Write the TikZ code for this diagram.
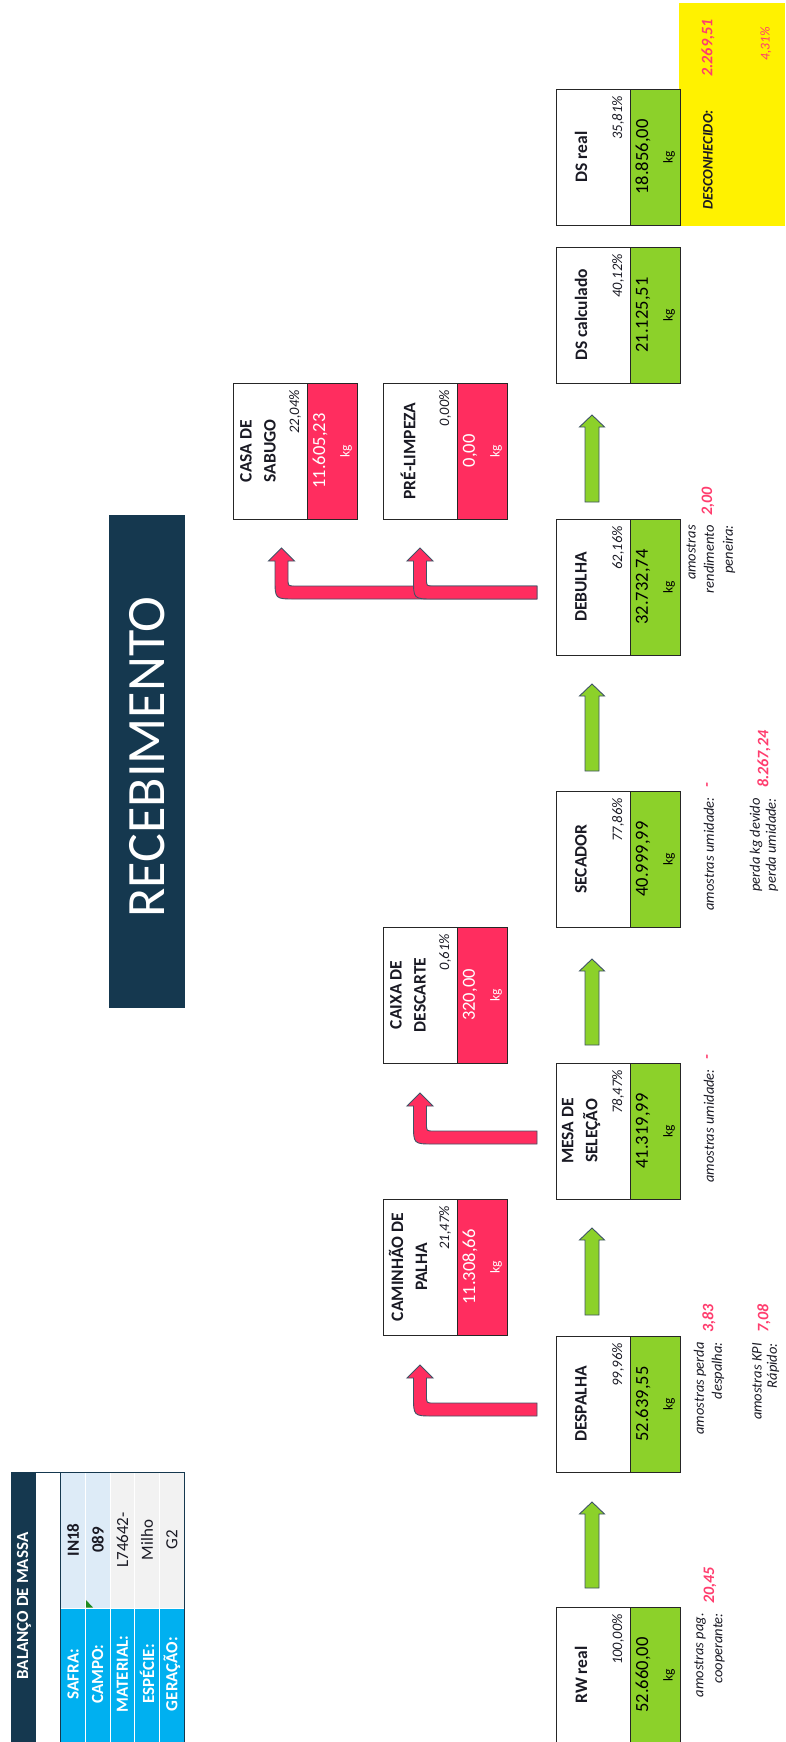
\documentclass[tikz,border=0pt]{standalone}
\usepackage{fontspec}
\setmainfont{Carlito}
\usetikzlibrary{calc}

\definecolor{navy}{HTML}{15384F}
\definecolor{flowgreen}{HTML}{8CD12A}
\definecolor{lossred}{HTML}{FF2D5F}
\definecolor{numred}{HTML}{FF3D6E}
\definecolor{arrowedge}{HTML}{3F5366}
\definecolor{cyanlab}{HTML}{00B0F0}
\definecolor{lightblue}{HTML}{DDEBF7}
\definecolor{lightgray}{HTML}{F2F2F2}
\definecolor{ink}{HTML}{1A1A24}
\definecolor{flagreen}{HTML}{1F8A1F}

\newcommand{\setfs}[2]{\fontsize{#1pt}{#2pt}\selectfont}

\tikzset{
  boxframe/.style={draw=black!85, line width=1.2pt, inner sep=0pt},
  txt/.style={rotate=90, inner sep=0pt, text=ink},
  titletxt/.style={txt, font={\bfseries\setfs{17.5}{24}}, align=center},
  pcttxt/.style={txt, font={\itshape\setfs{14.5}{14.5}}},
  valtxt/.style={txt, font={\setfs{18.5}{18.5}}},
  kgtxt/.style={txt, font={\setfs{13.5}{13.5}}},
  notetxt/.style={txt, font={\itshape\setfs{14.5}{14.5}}},
  rednum/.style={rotate=90, inner sep=0pt, text=numred, font={\bfseries\itshape\setfs{16}{16}}},
  greenarrow/.style={fill=flowgreen, draw=arrowedge, line width=0.9pt, line join=miter},
  redarrow/.style={fill=lossred, draw=arrowedge, line width=0.9pt, line join=miter},
  celltxt/.style={rotate=90, inner sep=0pt, font={\setfs{17}{17}}},
}

% one process box: title cell, load cell with mass
% #1 name, #2 left, #3 top, #4 load colour, #5 title, #6 share, #7 mass, #8 mass colour
\newcommand{\flowbox}[8]{%
  \node[boxframe, fill=white, minimum width=74pt, minimum height=136pt, anchor=north west] (#1-head) at (#2,#3) {};
  \node[boxframe, fill=#4, minimum width=49.5pt, minimum height=136pt, anchor=north west] (#1-load) at (#2+74,#3) {};
  \node[titletxt] (#1-title) at (#2+25,#3+68) {#5};
  \node[pcttxt, anchor=east] (#1-pct) at (#2+62,#3+7) {#6};
  \node[valtxt, text=#8] (#1-val) at (#2+87,#3+68) {#7};
  \node[kgtxt, text=#8] (#1-kg) at (#2+113,#3+68) {kg};
}

% straight block arrow pointing up: #1 centre x, #2 tip y, #3 tail y
\newcommand{\grarrow}[3]{%
  \filldraw[greenarrow] (#1,#2) -- (#1+12.5,#2+12) -- (#1+7,#2+12) -- (#1+7,#3)
    -- (#1-7,#3) -- (#1-7,#2+12) -- (#1-12.5,#2+12) -- cycle;
}

% bent block arrow: tail at the right, turning up to the tip
% #1 tip x, #2 tip y, #3 tail x
\newcommand{\rdarrow}[3]{%
  \filldraw[redarrow] (#1,#2) -- (#1+13,#2+13) -- (#1+6.5,#2+13) -- (#1+6.5,#2+31)
    .. controls (#1+6.5,#2+38) .. (#1+13.5,#2+38) -- (#3,#2+38) -- (#3,#2+51)
    -- (#1+13.5,#2+51) .. controls (#1-6.5,#2+51) .. (#1-6.5,#2+31)
    -- (#1-6.5,#2+13) -- (#1-13,#2+13) -- cycle;
}

\begin{document}
\begin{tikzpicture}[x=1pt,y=-1pt]
\useasboundingbox (0,0) rectangle (785,1742);
\fill[white] (0,0) rectangle (785,1742);

% ---------- header table ----------
\fill[navy] (11,1472) rectangle (36,1742);
\fill[lightblue] (60.7,1472) rectangle (110,1608);
\fill[lightgray] (110,1472) rectangle (184.2,1608);
\fill[cyanlab] (60.7,1608) rectangle (184.2,1742);
\foreach \gx in {85.4,110,134.8,159.5}
  \draw[white, line width=1pt] (\gx,1472) -- (\gx,1742);
\draw[white, line width=1pt] (60.7,1608) -- (184.2,1608);
\draw[navy, line width=1pt] (11,1742) -- (11,1472) -- (184.2,1472) -- (184.2,1742);
\draw[navy, line width=1pt] (60.7,1472) -- (60.7,1742);
\fill[flagreen] (86,1600) -- (86,1607.5) -- (93,1607.5) -- cycle;

\node[celltxt, text=white, font={\bfseries\setfs{17}{17}}] (tbl-head) at (24,1606) {BALANÇO DE MASSA};
\node[celltxt, text=white, font={\bfseries\setfs{17}{17}}] (tbl-l1) at (73,1674) {SAFRA:};
\node[celltxt, text=white, font={\bfseries\setfs{17}{17}}] (tbl-l2) at (97.7,1674) {CAMPO:};
\node[celltxt, text=white, font={\bfseries\setfs{17}{17}}] (tbl-l3) at (122.4,1674) {MATERIAL:};
\node[celltxt, text=white, font={\bfseries\setfs{17}{17}}] (tbl-l4) at (147.1,1674) {ESPÉCIE:};
\node[celltxt, text=white, font={\bfseries\setfs{17}{17}}] (tbl-l5) at (171.8,1674) {GERAÇÃO:};
\node[celltxt, text=ink, font={\bfseries\setfs{17}{17}}] (tbl-v1) at (73,1540) {IN18};
\node[celltxt, text=ink, font={\bfseries\setfs{17}{17}}] (tbl-v2) at (97.7,1540) {089};
\node[celltxt, text=ink] (tbl-v3) at (122.4,1540) {L74642-};
\node[celltxt, text=ink] (tbl-v4) at (147.1,1540) {Milho};
\node[celltxt, text=ink] (tbl-v5) at (171.8,1540) {G2};

% ---------- banner ----------
\node[fill=navy, inner sep=0pt, minimum width=76pt, minimum height=493pt, anchor=north west] (banner) at (109,515) {};
\node[rotate=90, inner sep=0pt, text=white, font={\setfs{54}{54}}] (banner-text) at (147,757) {RECEBIMENTO};

% ---------- unknown loss ----------
\node[fill=yellow, inner sep=0pt, minimum width=106pt, minimum height=222.4pt, anchor=north west] (unk) at (679,3.3) {};
\node[txt, font={\bfseries\itshape\setfs{14.5}{14.5}}] (unk-label) at (708,160) {DESCONHECIDO:};
\node[rednum] (unk-kg) at (708,48) {2.269,51};
\node[rotate=90, inner sep=0pt, text=numred, font={\itshape\setfs{13.5}{13.5}}] (unk-pct) at (766,44) {4,31\%};

% ---------- main flow ----------
\flowbox{rw}{556}{1607}{flowgreen}{RW real}{100,00\%}{52.660,00}{black}
\flowbox{desp}{556}{1336}{flowgreen}{DESPALHA}{99,96\%}{52.639,55}{black}
\flowbox{mesa}{556}{1063}{flowgreen}{MESA DE\\SELEÇÃO}{78,47\%}{41.319,99}{black}
\flowbox{sec}{556}{791}{flowgreen}{SECADOR}{77,86\%}{40.999,99}{black}
\flowbox{deb}{556}{519}{flowgreen}{DEBULHA}{62,16\%}{32.732,74}{black}
\flowbox{dsc}{556}{247}{flowgreen}{DS calculado}{40,12\%}{21.125,51}{black}
\flowbox{dsr}{556}{89}{flowgreen}{DS real}{35,81\%}{18.856,00}{black}

\grarrow{592}{1502}{1588}
\grarrow{592}{1228}{1315}
\grarrow{592}{959}{1045}
\grarrow{592}{684}{771}
\grarrow{592}{415}{502}

% ---------- side outputs ----------
\flowbox{cam}{383}{1199}{lossred}{CAMINHÃO DE\\PALHA}{21,47\%}{11.308,66}{white}
\flowbox{cai}{383}{927}{lossred}{CAIXA DE\\DESCARTE}{0,61\%}{320,00}{white}
\flowbox{casa}{233}{383}{lossred}{CASA DE\\SABUGO}{22,04\%}{11.605,23}{white}
\flowbox{pre}{383}{383}{lossred}{PRÉ-LIMPEZA}{0,00\%}{0,00}{white}

\rdarrow{420}{1365}{537}
\rdarrow{420}{1093}{537}
\rdarrow{281.5}{548}{537}
\rdarrow{420}{548}{537}

% ---------- sampling notes ----------
\node[notetxt, anchor=east] (rw-n1) at (700,1613) {amostras pag.};
\node[notetxt, anchor=east] (rw-n2) at (719,1613) {cooperante:};
\node[rednum, anchor=west] (rw-r1) at (710,1604) {20,45};

\node[notetxt, anchor=east] (desp-n1) at (700,1342) {amostras perda};
\node[notetxt, anchor=east] (desp-n2) at (718,1342) {despalha:};
\node[rednum, anchor=west] (desp-r1) at (709,1333) {3,83};
\node[notetxt, anchor=east] (desp-n3) at (757,1343) {amostras KPI};
\node[notetxt, anchor=east] (desp-n4) at (773,1343) {Rápido:};
\node[rednum, anchor=west] (desp-r2) at (764,1333) {7,08};

\node[notetxt, anchor=east] (mesa-n1) at (709,1069) {amostras umidade:};
\node[rednum, anchor=west] (mesa-r1) at (709,1060) {-};

\node[notetxt, anchor=east] (sec-n1) at (709,797) {amostras umidade:};
\node[rednum, anchor=west] (sec-r1) at (709,788) {-};
\node[notetxt, anchor=east] (sec-n2) at (756,798) {perda kg devido};
\node[notetxt, anchor=east] (sec-n3) at (772,798) {perda umidade:};
\node[rednum, anchor=west] (sec-r2) at (764,788) {8.267,24};

\node[notetxt, anchor=east] (deb-n1) at (691,525) {amostras};
\node[notetxt, anchor=east] (deb-n2) at (709,525) {rendimento};
\node[notetxt, anchor=east] (deb-n3) at (729,525) {peneira:};
\node[rednum, anchor=west] (deb-r1) at (708,516) {2,00};

\end{tikzpicture}
\end{document}
